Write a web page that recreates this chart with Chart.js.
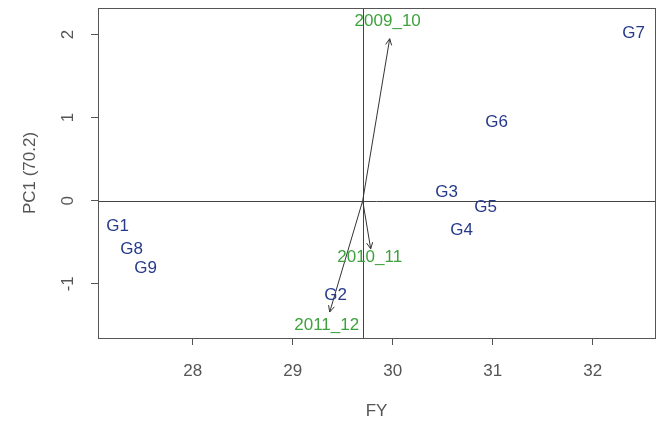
<!DOCTYPE html>
<html>
<head>
<meta charset="utf-8">
<script src="https://cdn.jsdelivr.net/npm/chart.js@4"></script>
<style>
  body { margin: 0; background: #fff; }
</style>
</head>
<body>
<canvas id="biplot-chart" width="659" height="424"></canvas>
<script>
// genotype scores (FY on x, PC1 on y)
const genotypes = ['G1', 'G2', 'G3', 'G4', 'G5', 'G6', 'G7', 'G8', 'G9'];
const genoX = [27.25, 29.43, 30.54, 30.69, 30.93, 31.04, 32.41, 27.39, 27.53];
const genoY = [-0.31, -1.14, 0.10, -0.36, -0.08, 0.94, 2.01, -0.59, -0.82];

// environment vectors: tips and label positions
const envs = ['2009_10', '2010_11', '2011_12'];
const envX = [29.97, 29.78, 29.37];
const envY = [1.95, -0.58, -1.34];
const envLabelX = [29.95, 29.77, 29.34];
const envLabelY = [2.16, -0.68, -1.50];

// origin of the vectors (mean FY, PC1 = 0)
const originX = 29.70;
const originY = 0;

const xTicks = [28, 29, 30, 31, 32];
const yTicks = [-1, 0, 1, 2];

const navy = '#273a8a';
const green = '#3da23d';
const axisGrey = '#555555';

const envDatasets = envs.map((name, i) => ({
  label: name,
  data: [{ x: originX, y: originY }, { x: envX[i], y: envY[i] }],
  showLine: true,
  borderColor: '#333333',
  borderWidth: 1,
  pointRadius: 0,
}));

const biplotPlugin = {
  id: 'biplot',
  beforeDatasetsDraw(chart) {
    const { ctx, chartArea, scales } = chart;
    ctx.save();
    ctx.strokeStyle = '#444444';
    ctx.lineWidth = 1;
    // reference lines through the origin
    const vx = Math.round(scales.x.getPixelForValue(originX)) + 0.5;
    const hy = Math.round(scales.y.getPixelForValue(originY)) + 0.5;
    ctx.beginPath();
    ctx.moveTo(vx, chartArea.top);
    ctx.lineTo(vx, chartArea.bottom);
    ctx.moveTo(chartArea.left, hy);
    ctx.lineTo(chartArea.right, hy);
    ctx.stroke();
    // box
    ctx.strokeStyle = axisGrey;
    ctx.strokeRect(chartArea.left + 0.5, chartArea.top + 0.5,
      chartArea.right - chartArea.left, chartArea.bottom - chartArea.top);
    ctx.restore();
  },
  afterDatasetsDraw(chart) {
    const { ctx, scales } = chart;
    ctx.save();
    // arrow heads
    ctx.strokeStyle = '#333333';
    ctx.lineWidth = 1;
    envs.forEach((name, i) => {
      const pts = chart.getDatasetMeta(i + 1).data;
      const a = pts[0], b = pts[1];
      const ang = Math.atan2(b.y - a.y, b.x - a.x);
      const len = 7;
      ctx.beginPath();
      ctx.moveTo(b.x - len * Math.cos(ang - 0.45), b.y - len * Math.sin(ang - 0.45));
      ctx.lineTo(b.x, b.y);
      ctx.lineTo(b.x - len * Math.cos(ang + 0.45), b.y - len * Math.sin(ang + 0.45));
      ctx.stroke();
    });
    ctx.textAlign = 'center';
    ctx.textBaseline = 'middle';
    ctx.font = '17px "Liberation Sans", Arial, sans-serif';
    // genotype labels
    ctx.fillStyle = navy;
    chart.getDatasetMeta(0).data.forEach((pt, i) => {
      ctx.fillText(genotypes[i], pt.x, pt.y);
    });
    // environment labels
    ctx.fillStyle = green;
    envs.forEach((name, i) => {
      ctx.fillText(name, scales.x.getPixelForValue(envLabelX[i]),
        scales.y.getPixelForValue(envLabelY[i]));
    });
    ctx.restore();
  },
};

const tickFont = { family: '"Liberation Sans", Arial, sans-serif', size: 17 };

new Chart(document.getElementById('biplot-chart'), {
  type: 'scatter',
  data: {
    datasets: [
      {
        label: 'genotypes',
        data: genotypes.map((g, i) => ({ x: genoX[i], y: genoY[i] })),
        pointRadius: 0,
      },
      ...envDatasets,
    ],
  },
  options: {
    responsive: false,
    animation: false,
    layout: { padding: { top: 8, right: 4, left: 0, bottom: 0 } },
    plugins: { legend: { display: false }, tooltip: { enabled: false } },
    scales: {
      x: {
        type: 'linear',
        min: 27.053,
        max: 32.623,
        afterBuildTicks: (scale) => { scale.ticks = xTicks.map((v) => ({ value: v })); },
        afterFit: (scale) => {
          scale.height = 86;
          scale.paddingLeft = 0;
          scale.paddingRight = 0;
        },
        ticks: { font: tickFont, color: axisGrey, padding: 16 },
        grid: { drawOnChartArea: false, tickLength: 7, color: axisGrey },
        border: { color: axisGrey },
        title: { display: true, text: 'FY', font: tickFont, color: axisGrey, padding: { bottom: 2 } },
      },
      y: {
        type: 'linear',
        min: -1.653,
        max: 2.32,
        afterBuildTicks: (scale) => { scale.ticks = yTicks.map((v) => ({ value: v })); },
        afterFit: (scale) => {
          scale.width = 98;
          scale.paddingTop = 0;
          scale.paddingBottom = 0;
        },
        ticks: { font: tickFont, color: axisGrey, padding: 15, minRotation: 90, maxRotation: 90, crossAlign: 'center' },
        grid: { drawOnChartArea: false, tickLength: 7, color: axisGrey },
        border: { color: axisGrey },
        title: { display: true, text: 'PC1 (70.2)', font: tickFont, color: axisGrey, padding: { top: 20 } },
      },
    },
  },
  plugins: [biplotPlugin],
});
</script>
</body>
</html>
